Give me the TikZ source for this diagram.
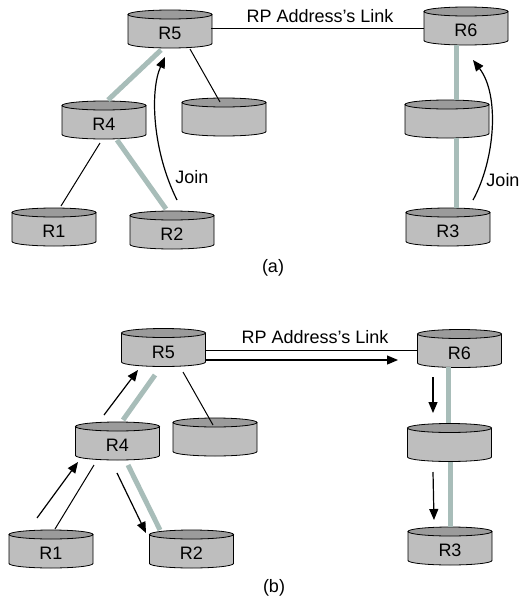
\documentclass[tikz,border=0pt]{standalone}
\usepackage{fontspec}
\setmainfont{Liberation Sans}
\usetikzlibrary{arrows.meta,calc}
\begin{document}
\begin{tikzpicture}[x=1pt, y=-1pt,
    drum/.style={rectangle, minimum width=88pt, minimum height=41pt, inner sep=0pt,
        text height=21pt, text depth=0pt, font=\fontsize{18}{20}\selectfont,
        path picture={
            \draw[fill=colorCorpo, line width=0.8pt]
                ([shift={(-42pt,14.5pt)}]path picture bounding box.center) -- ++(0pt,-29pt)
                arc[start angle=180, end angle=360, x radius=42pt, y radius=4.5pt] -- ++(0pt,29pt);
            \draw[fill=colorTappo, line width=0.8pt]
                ([yshift=14.5pt]path picture bounding box.center) ellipse [x radius=42pt, y radius=4.5pt];
        }},
    albero/.style={line width=5pt, color=colorAlbero},
    filo/.style={line width=1pt, color=black},
    msg/.style={line width=1.2pt, -{Triangle[length=11pt,width=9pt]}},
    testo/.style={font=\fontsize{18}{20}\selectfont}
    ]
    % Definizione colori
    \definecolor{colorCorpo}{RGB}{190, 190, 190}
    \definecolor{colorTappo}{RGB}{155, 155, 155}
    \definecolor{colorAlbero}{RGB}{168, 189, 185}

    \useasboundingbox (0,0) rectangle (523,608);

    % Router (a)
    \node[drum] (R5a) at (170,29) {R5};
    \node[drum] (R4a) at (104,120) {R4};
    \node[drum] (Xa) at (224,117) {};
    \node[drum] (R1a) at (54,227) {R1};
    \node[drum] (R2a) at (172,230) {R2};
    \node[drum] (R6a) at (466,26) {R6};
    \node[drum] (Ya) at (447,119) {};
    \node[drum] (R3a) at (448,227) {R3};

    % Collegamenti (a)
    \draw[filo] ($(R5a)+(41,-1)$) -- ($(R6a)+(-42,2)$);
    \node[testo] (linkA) at (320,16) {RP Address’s Link};
    \draw[albero] ($(R5a)+(-9,21)$) -- ($(R4a)+(4,-20)$);
    \draw[filo] ($(R5a)+(20,20)$) -- ($(Xa)+(-4,-15)$);
    \draw[filo] ($(R4a)+(-4,23)$) -- ($(R1a)+(7,-21)$);
    \draw[albero] ($(R4a)+(13,20)$) -- ($(R2a)+(-6,-21)$);
    \draw[albero] ($(R6a)+(-10,19)$) -- ($(Ya)+(9,-19)$);
    \draw[albero] ($(Ya)+(9,19)$) -- ($(R3a)+(8,-19)$);
    \draw[msg] ($(R2a)+(5,-30)$) .. controls +(-25,-50) and +(-15,33) .. ($(R5a)+(-5,28)$);
    \draw[msg] ($(R3a)+(25,-27)$) .. controls +(22,-40) and +(27,35) .. ($(R6a)+(7,34)$);
    \node[testo] (joinA) at (192,177) {Join};
    \node[testo] (joinB) at (503,180) {Join};
    \node[testo] (capA) at (273,268) {(a)};

    % Router (b)
    \node[drum] (R5b) at (163.5,347.5) {R5};
    \node[drum] (R4b) at (117.5,441) {R4};
    \node[drum] (Xb) at (215,437) {};
    \node[drum] (R1b) at (51,549) {R1};
    \node[drum] (R2b) at (191.5,549) {R2};
    \node[drum] (R6b) at (459.5,348.5) {R6};
    \node[drum] (Yb) at (449.5,442.5) {};
    \node[drum] (R3b) at (450,546) {R3};

    % Collegamenti (b)
    \draw[filo] ($(R5b)+(42,2.5)$) -- ($(R6b)+(-42,1.5)$);
    \node[testo] (linkB) at (315,337) {RP Address’s Link};
    \draw[msg] ($(R5b)+(42,12.5)$) -- ($(R6b)+(-61.5,11.5)$);
    \draw[albero] ($(R5b)+(-8.5,27.5)$) -- ($(R4b)+(5.5,-21)$);
    \draw[msg] ($(R4b)+(-13.5,-26)$) -- ($(R5b)+(-25.5,22.5)$);
    \draw[filo] ($(R5b)+(19.5,24.5)$) -- ($(Xb)+(-2,-12)$);
    \draw[msg] ($(R1b)+(-14,-31)$) -- ($(R4b)+(-39.5,21)$);
    \draw[filo] ($(R4b)+(-23.5,24)$) -- ($(R1b)+(4,-20)$);
    \draw[msg] ($(R4b)+(-0.5,32)$) -- ($(R2b)+(-45.5,-16)$);
    \draw[albero] ($(R4b)+(10.5,24)$) -- ($(R2b)+(-31.5,-19)$);
    \draw[albero] ($(R6b)+(-11.5,18.5)$) -- ($(Yb)+(-1.5,-19.5)$);
    \draw[albero] ($(Yb)+(0.5,19.5)$) -- ($(R3b)+(0,-19)$);
    \draw[msg] ($(R6b)+(-26.5,28.5)$) -- ($(Yb)+(-16.5,-29.5)$);
    \draw[msg] ($(Yb)+(-16.5,29.5)$) -- ($(R3b)+(-16,-26)$);
    \node[testo] (capB) at (274,588) {(b)};
\end{tikzpicture}
\end{document}
